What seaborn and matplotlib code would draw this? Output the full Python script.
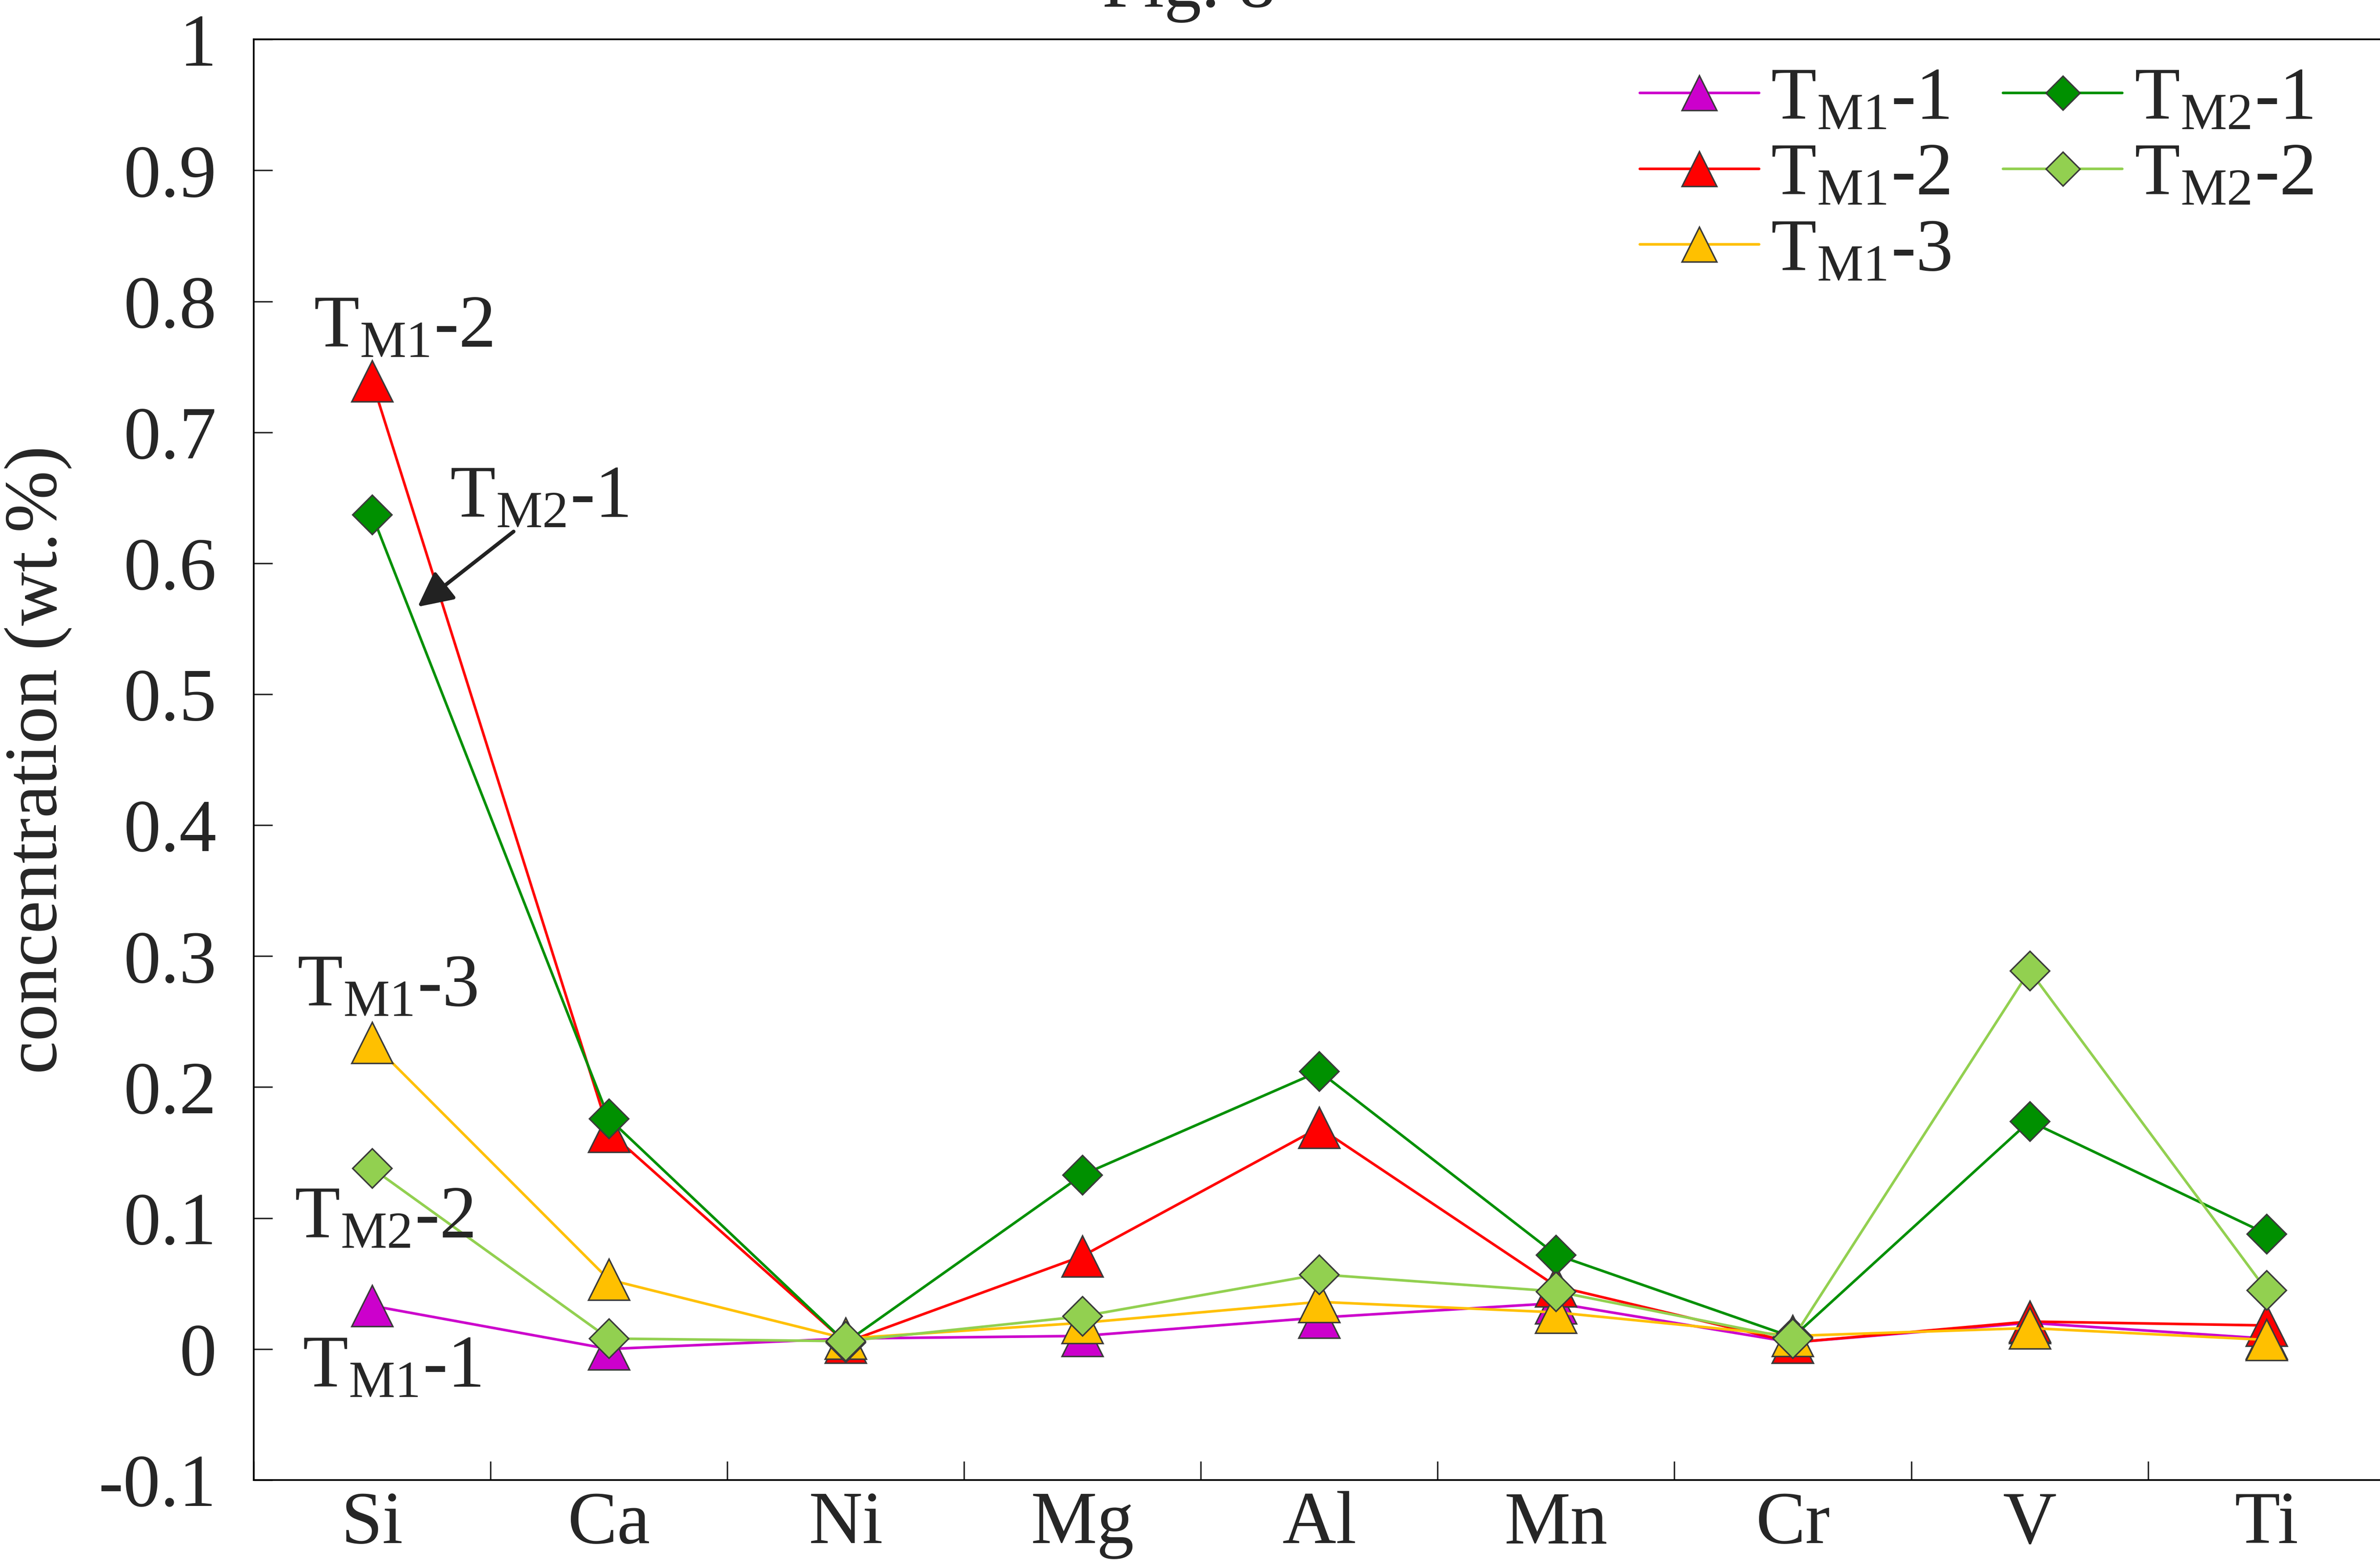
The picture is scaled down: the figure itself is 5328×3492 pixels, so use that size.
import numpy as np
import pandas as pd
import matplotlib
matplotlib.use("Agg")
import matplotlib.pyplot as plt
import seaborn as sns

# ---------------- data ----------------
elements = ["Si", "Ca", "Ni", "Mg", "Al", "Mn", "Cr", "V", "Ti"]
labels = [r"T$_\mathregular{M1}$-1", r"T$_\mathregular{M1}$-2", r"T$_\mathregular{M1}$-3",
          r"T$_\mathregular{M2}$-1", r"T$_\mathregular{M2}$-2"]
tm1_1 = [0.033, 0.000, 0.008, 0.010, 0.024, 0.035, 0.005, 0.020, 0.008]
tm1_2 = [0.739, 0.166, 0.005, 0.071, 0.169, 0.048, 0.005, 0.021, 0.018]
tm1_3 = [0.234, 0.053, 0.008, 0.020, 0.036, 0.028, 0.010, 0.016, 0.007]
tm2_1 = [0.637, 0.176, 0.005, 0.133, 0.212, 0.072, 0.009, 0.174, 0.088]
tm2_2 = [0.138, 0.008, 0.006, 0.025, 0.057, 0.044, 0.008, 0.289, 0.045]
yticks = [-0.1, 0, 0.1, 0.2, 0.3, 0.4, 0.5, 0.6, 0.7, 0.8, 0.9, 1]
ytick_labels = ["-0.1", "0", "0.1", "0.2", "0.3", "0.4", "0.5", "0.6", "0.7", "0.8", "0.9", "1"]

series = [tm1_1, tm1_2, tm1_3, tm2_1, tm2_2]
colors = ["#CC00CC", "#FF0000", "#FFC000", "#009000", "#92D050"]
markers = ["^", "^", "^", "D", "D"]
msizes = [22, 22, 22, 15, 15]

# ---------------- style ----------------
sns.set_style("ticks")
plt.rcParams["font.family"] = "serif"
plt.rcParams["font.serif"] = ["Liberation Serif", "DejaVu Serif"]
plt.rcParams["mathtext.fontset"] = "custom"
plt.rcParams["mathtext.rm"] = "Liberation Serif"
plt.rcParams["mathtext.it"] = "Liberation Serif:italic"
plt.rcParams["mathtext.bf"] = "Liberation Serif:bold"
FONT = "Liberation Serif"

FS = 40
fig = plt.figure(figsize=(17.76, 11.64), dpi=300)
ax = fig.add_axes([0.1066, 0.0513, 0.8954, 0.9234])

xpos = np.arange(len(elements))
for vals, c, m, ms, lab in zip(series, colors, markers, msizes, labels):
    df = pd.DataFrame({"x": xpos, "y": vals})
    sns.lineplot(data=df, x="x", y="y", ax=ax, color=c, marker=m, markersize=ms,
                 markeredgecolor="#3a3a3a", markeredgewidth=0.8, linewidth=1.4,
                 label=lab, sort=False)

ax.set_xlim(-0.5, len(elements) - 0.5)
ax.set_ylim(-0.1, 1.0)
ax.set_xticks(xpos)
ax.set_xticklabels(elements, fontsize=FS, fontfamily=FONT)
ax.set_xticks(np.arange(-0.5, len(elements), 1.0), minor=True)
ax.tick_params(axis="x", which="major", length=0, pad=6)
ax.tick_params(axis="x", which="minor", direction="in", length=10, width=0.8)
ax.set_yticks(yticks)
ax.set_yticklabels(ytick_labels, fontsize=FS, fontfamily=FONT)
ax.tick_params(axis="y", direction="in", length=10, width=0.8, pad=20)
ax.set_xlabel("")
ax.set_ylabel("concentration (wt.%)", fontsize=FS, labelpad=14, fontfamily=FONT)
for s in ax.spines.values():
    s.set_linewidth(0.9)
    s.set_color("black")

# annotations
kw = dict(fontsize=FS, va="baseline", ha="center", fontfamily=FONT)
ax.text(0.13, 0.765, labels[1], **kw)
ax.text(0.705, 0.635, labels[3], **kw)
ax.text(0.064, 0.262, labels[2], **kw)
ax.text(0.05, 0.085, labels[4], **kw)
ax.text(0.083, -0.029, labels[0], **kw)
ax.annotate("", xy=(0.18, 0.565), xytext=(0.61, 0.626),
            arrowprops=dict(arrowstyle="-|>", lw=2, color="#222222", mutation_scale=40))

leg = ax.legend(loc="upper left", bbox_to_anchor=(0.689, 0.957), bbox_transform=fig.transFigure,
                ncol=2, frameon=False, prop={"family": FONT, "size": FS},
                handlelength=1.6, handletextpad=0.16,
                columnspacing=0.7, labelspacing=0.1, borderpad=0, borderaxespad=0,
                markerscale=0.85)

fig.text(0.4995, 0.9957, "Fig. 8", fontsize=FS, ha="center", va="baseline", fontfamily=FONT)

fig.savefig("out.png", dpi=300)
